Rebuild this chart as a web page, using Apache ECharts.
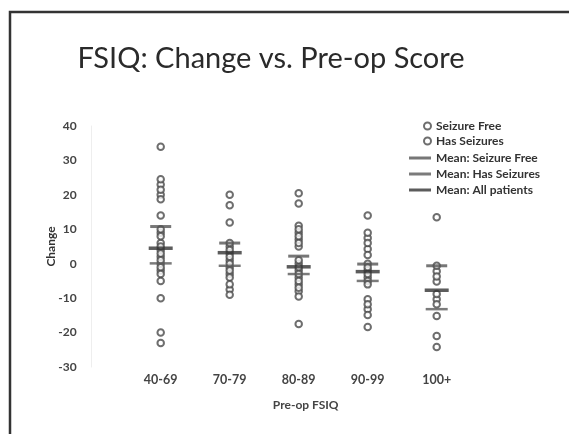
<!DOCTYPE html>
<html>
<head>
<meta charset="utf-8">
<script src="https://cdn.jsdelivr.net/npm/echarts@6/dist/echarts.min.js"></script>
<style>html,body{margin:0;padding:0;background:#fff;}#c{width:569px;height:434px;}</style>
</head>
<body>
<div id="c"></div>
<script>
// Categories (x positions 1..5) and tick labels
const categories = ['40-69', '70-79', '80-89', '90-99', '100+'];
const yTicks = [-30, -20, -10, 0, 10, 20, 30, 40];

// Individual patients: [category index (1-based), change]
const seizureFree = [
  [1, 34], [1, 23], [1, 20], [1, 14], [1, 9], [1, 6], [1, 4], [1, 2], [1, 0], [1, -2], [1, -10], [1, -23],
  [2, 20], [2, 12], [2, 5], [2, 3], [2, 1], [2, -1], [2, -3], [2, -7.5],
  [3, 20.5], [3, 11], [3, 9], [3, 7], [3, 5], [3, 0], [3, -2], [3, -4], [3, -6], [3, -8],
  [4, 14], [4, 7.5], [4, 4.3], [4, 0], [4, -2], [4, -4], [4, -10.3], [4, -13.2],
  [5, 13.5], [5, -2.2], [5, -5.2], [5, -10.3]
];
const hasSeizures = [
  [1, 24.5], [1, 21.5], [1, 18.7], [1, 10], [1, 8], [1, 5], [1, 3], [1, 1], [1, -1], [1, -3], [1, -5], [1, -20],
  [2, 17], [2, 6], [2, 4], [2, 2], [2, 0], [2, -2], [2, -4], [2, -6], [2, -9],
  [3, 17.5], [3, 10], [3, 8], [3, 6], [3, 1], [3, -1], [3, -3], [3, -5], [3, -7], [3, -9.5], [3, -17.5],
  [4, 9], [4, 6], [4, 2.5], [4, -1], [4, -3], [4, -5], [4, -6], [4, -11.8], [4, -14.9], [4, -18.4],
  [5, -0.6], [5, -3.7], [5, -8.8], [5, -11.8], [5, -15.2], [5, -21], [5, -24.2]
];

// Group means per category
const meanSeizureFree = [10.8, 6.0, 2.2, -0.1, -0.6];
const meanHasSeizures = [0.1, -0.6, -3.0, -5.0, -13.2];
const meanAll = [4.5, 3.2, -0.9, -2.3, -7.7];

const toPts = arr => arr.map((v, i) => [i + 1, v]);

const chart = echarts.init(document.getElementById('c'));
const FONT = 'Lato, "Liberation Sans", sans-serif';
chart.setOption({
  animation: false,
  backgroundColor: '#ffffff',
  textStyle: { fontFamily: FONT },
  title: {
    text: 'FSIQ: Change vs. Pre-op Score',
    left: 266, top: 39, textAlign: 'center',
    textStyle: { fontFamily: FONT, fontSize: 29, fontWeight: 'normal', color: '#2a2a2a' }
  },
  graphic: [{
    type: 'polyline',
    shape: { points: [[10, 434], [10, 12], [569, 12]] },
    style: { stroke: '#333', lineWidth: 2.5, fill: null }
  }],
  legend: [{
    orient: 'vertical', left: 418, top: 115,
    itemWidth: 7, itemHeight: 7, itemGap: 3,
    data: ['Seizure Free', 'Has Seizures'],
    textStyle: { fontFamily: FONT, fontSize: 12, fontWeight: 'bold', color: '#333' }
  }, {
    orient: 'vertical', left: 404, top: 147,
    itemWidth: 22, itemHeight: 3, itemGap: 4,
    data: ['Mean: Seizure Free', 'Mean: Has Seizures', 'Mean: All patients'],
    textStyle: { fontFamily: FONT, fontSize: 12, fontWeight: 'bold', color: '#333' }
  }],
  grid: { left: 91.7, right: 63.3, top: 126, bottom: 67 },
  xAxis: {
    type: 'value', min: 0, max: 6, interval: 1,
    name: 'Pre-op FSIQ', nameLocation: 'middle', nameGap: 32,
    nameTextStyle: { fontFamily: FONT, fontSize: 12, fontWeight: 'bold', color: '#444', padding: [0, 0, 0, 14] },
    axisLine: { show: false }, axisTick: { show: false }, splitLine: { show: false },
    axisLabel: {
      margin: 6, fontFamily: FONT, fontSize: 12.5, fontWeight: 'bold', color: '#444',
      formatter: v => categories[v - 1] || ''
    }
  },
  yAxis: {
    type: 'value', min: yTicks[0], max: yTicks[yTicks.length - 1], interval: 10,
    name: 'Change', nameLocation: 'middle', nameGap: 35, nameRotate: 90,
    nameMoveOverlap: false,
    nameTextStyle: { fontFamily: FONT, fontSize: 12, fontWeight: 'bold', color: '#333' },
    axisLine: { show: true, lineStyle: { color: '#eeeeee', width: 1 } },
    axisTick: { show: false }, splitLine: { show: false },
    axisLabel: { margin: 15, fontFamily: FONT, fontSize: 12, fontWeight: 'bold', color: '#444' }
  },
  series: [{
    name: 'Seizure Free', type: 'scatter', data: seizureFree,
    symbol: 'emptyCircle', symbolSize: 6.5, z: 3,
    itemStyle: { color: '#4a4a4a', borderColor: '#4a4a4a', borderWidth: 2 }
  }, {
    name: 'Has Seizures', type: 'scatter', data: hasSeizures,
    symbol: 'emptyCircle', symbolSize: 6.5, z: 3,
    itemStyle: { color: '#4a4a4a', borderColor: '#4a4a4a', borderWidth: 2 }
  }, {
    name: 'Mean: Seizure Free', type: 'scatter', data: toPts(meanSeizureFree),
    symbol: 'rect', symbolSize: [21, 3], z: 4,
    itemStyle: { color: '#555' }
  }, {
    name: 'Mean: Has Seizures', type: 'scatter', data: toPts(meanHasSeizures),
    symbol: 'rect', symbolSize: [22, 2.5], z: 4,
    itemStyle: { color: '#5a5a5a' }
  }, {
    name: 'Mean: All patients', type: 'scatter', data: toPts(meanAll),
    symbol: 'rect', symbolSize: [24, 3.5], z: 5,
    itemStyle: { color: '#333' }
  }]
});
</script>
</body>
</html>
